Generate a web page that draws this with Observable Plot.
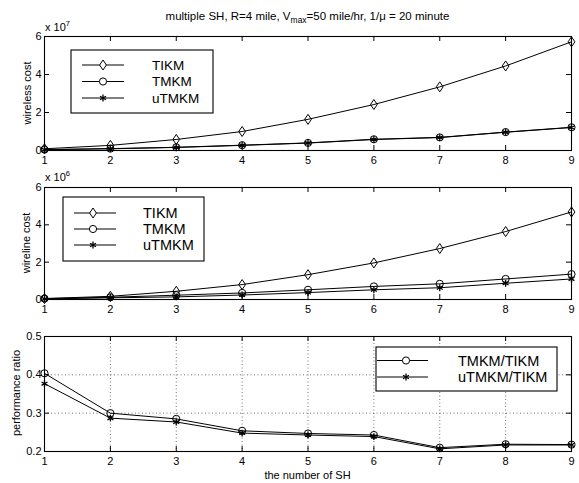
<!DOCTYPE html>
<html><head><meta charset="utf-8">
<script src="https://cdn.jsdelivr.net/npm/d3@7"></script>
<script src="https://cdn.jsdelivr.net/npm/@observablehq/plot@0.6"></script>
<style>
body{margin:0;background:#fff;font-family:"Liberation Sans",Arial,sans-serif;}
#chart{position:relative;width:579px;height:483px;overflow:hidden;background:#fff;}
#chart > svg, #chart > div{position:absolute;}
.title{left:44px;width:527px;top:10px;text-align:center;font-size:11.5px;line-height:13px;}
.title sub{font-size:8.5px;}
</style></head><body><div id="chart"></div>
<script>
// ---- data ----
const shCount = [1, 2, 3, 4, 5, 6, 7, 8, 9];
const wirelessTIKM  = [0.09, 0.27, 0.58, 1.00, 1.64, 2.42, 3.35, 4.45, 5.72];
const wirelessTMKM  = [0.05, 0.10, 0.17, 0.28, 0.40, 0.59, 0.69, 0.97, 1.22];
const wirelessUTMKM = [0.04, 0.09, 0.16, 0.27, 0.39, 0.58, 0.68, 0.96, 1.21];
const wirelineTIKM  = [0.05, 0.17, 0.44, 0.80, 1.33, 1.96, 2.73, 3.64, 4.69];
const wirelineTMKM  = [0.05, 0.12, 0.23, 0.35, 0.52, 0.70, 0.84, 1.10, 1.36];
const wirelineUTMKM = [0.03, 0.09, 0.14, 0.24, 0.37, 0.52, 0.63, 0.87, 1.10];
const ratioTMKM  = [0.404, 0.300, 0.285, 0.254, 0.247, 0.243, 0.210, 0.219, 0.218];
const ratioUTMKM = [0.377, 0.287, 0.277, 0.248, 0.243, 0.239, 0.207, 0.217, 0.217];
const xTicks = [1, 2, 3, 4, 5, 6, 7, 8, 9];
const costTicks = [0, 2, 4, 6];
const ratioTicks = [0.2, 0.3, 0.4, 0.5];
const wirelessLabels = ["TIKM", "TMKM", "uTMKM"];
const ratioLabels = ["TMKM/TIKM", "uTMKM/TIKM"];

// tall MATLAB-like diamond
const tallDiamond = {
  draw(ctx, size) {
    const r = Math.sqrt(size / Math.PI);
    ctx.moveTo(0, -r * 1.25); ctx.lineTo(r * 0.85, 0);
    ctx.lineTo(0, r * 1.25); ctx.lineTo(-r * 0.85, 0); ctx.closePath();
  }
};
const markers = {
  diamond: {symbol: tallDiamond, r: 4, sw: 1},
  circle: {symbol: "circle", r: 3.6, sw: 1},
  star: {symbol: "asterisk", r: 3.2, sw: 1.3}
};

const W = 579, ML = 44, MR = 8;
const chart = document.getElementById("chart");
const font = "'Liberation Sans', Arial, sans-serif";

function panel({top, height, mt, mb, ydomain, yticks, yfmt, series, grid}) {
  const innerH = height - mt - mb, innerW = W - ML - MR;
  const marks = [];
  if (grid) {
    marks.push(Plot.gridX(xTicks, {stroke: "#000", strokeOpacity: 0.55, strokeDasharray: "1,2.5"}));
    marks.push(Plot.gridY(yticks, {stroke: "#000", strokeOpacity: 0.55, strokeDasharray: "1,2.5"}));
  }
  for (const s of series) {
    const rows = shCount.map((x, i) => ({x, y: s.values[i]}));
    marks.push(Plot.line(rows, {x: "x", y: "y", stroke: "black", strokeWidth: 1}));
    marks.push(Plot.dot(rows, {x: "x", y: "y", symbol: s.marker.symbol, r: s.marker.r, stroke: "black", fill: "none", strokeWidth: s.marker.sw}));
  }
  marks.push(
    Plot.tickX(xTicks, {x: d => d, insetTop: innerH - 5, stroke: "black"}),
    Plot.tickX(xTicks, {x: d => d, insetBottom: innerH - 5, stroke: "black"}),
    Plot.tickY(yticks, {y: d => d, insetRight: innerW - 5, stroke: "black"}),
    Plot.tickY(yticks, {y: d => d, insetLeft: innerW - 5, stroke: "black"}),
    Plot.axisX(xTicks, {tickSize: 0, tickPadding: 6, label: null, fontSize: 11}),
    Plot.axisY(yticks, {tickSize: 0, tickPadding: 3, label: null, tickFormat: yfmt, fontSize: 11}),
    Plot.frame({stroke: "black", strokeWidth: 1.1})
  );
  const svg = Plot.plot({
    width: W, height, marginLeft: ML, marginRight: MR, marginTop: mt, marginBottom: mb,
    x: {domain: [1, 9]}, y: {domain: ydomain},
    style: {fontFamily: font, fontSize: "11px", background: "transparent", color: "black", overflow: "visible"},
    marks
  });
  svg.style.top = top + "px";
  svg.style.left = "0px";
  chart.appendChild(svg);
}

panel({top: 0, height: 172, mt: 36, mb: 22, ydomain: [0, 6], yticks: costTicks, yfmt: d3.format("d"),
  series: [
    {values: wirelessTIKM, marker: markers.diamond},
    {values: wirelessTMKM, marker: markers.circle},
    {values: wirelessUTMKM, marker: markers.star}
  ]});
panel({top: 172, height: 148, mt: 15, mb: 21, ydomain: [0, 6], yticks: costTicks, yfmt: d3.format("d"),
  series: [
    {values: wirelineTIKM, marker: markers.diamond},
    {values: wirelineTMKM, marker: markers.circle},
    {values: wirelineUTMKM, marker: markers.star}
  ]});
panel({top: 320, height: 163, mt: 16, mb: 32, ydomain: [0.2, 0.5], yticks: ratioTicks, yfmt: d3.format(".1f"), grid: true,
  series: [
    {values: ratioTMKM, marker: markers.circle},
    {values: ratioUTMKM, marker: markers.star}
  ]});

// title
const title = document.createElement("div");
title.className = "title";
title.innerHTML = "multiple SH, R=4 mile, V<sub>max</sub>=50 mile/hr, 1/\u03bc = 20 minute";
chart.appendChild(title);

// overlay annotations
const ov = d3.create("svg").attr("width", W).attr("height", 483)
  .style("top", "0px").style("left", "0px").style("font-family", font);
chart.appendChild(ov.node());

function mult(x, y, exp) {
  const t = ov.append("text").attr("x", x).attr("y", y).attr("font-size", 11);
  t.append("tspan").text("x 10");
  t.append("tspan").attr("dy", -5).attr("font-size", 7.5).text(exp);
}
mult(45, 31, "7");
mult(45, 181, "6");

function ylab(x, y, text) {
  ov.append("text").attr("transform", `translate(${x},${y}) rotate(-90)`)
    .attr("text-anchor", "middle").attr("dy", "0.35em").attr("font-size", 11).text(text);
}
ylab(27, 93, "wireless cost");
ylab(26, 243, "wireline cost");
ylab(16, 393, "performance ratio");
ov.append("text").attr("x", (ML + W - MR) / 2).attr("y", 479).attr("text-anchor", "middle")
  .attr("font-size", 11).text("the number of SH");

function legend({left, top, width, height, lineX, markX, textX, rows, fs, labels, marks}) {
  const g = ov.append("g").attr("transform", `translate(${left},${top})`);
  g.append("rect").attr("width", width).attr("height", height).attr("fill", "white").attr("stroke", "black").attr("stroke-width", 1.1);
  labels.forEach((lab, i) => {
    const y = rows[i];
    g.append("line").attr("x1", lineX[0]).attr("x2", lineX[1]).attr("y1", y).attr("y2", y).attr("stroke", "black");
    const m = marks[i];
    const type = typeof m.symbol === "string" ? (m.symbol === "circle" ? d3.symbolCircle : d3.symbolAsterisk) : m.symbol;
    g.append("path").attr("d", d3.symbol(type, Math.PI * m.r * m.r)())
      .attr("transform", `translate(${markX},${y})`).attr("fill", "white").attr("stroke", "black").attr("stroke-width", m.sw);
    g.append("text").attr("x", textX).attr("y", y + fs * 0.36).attr("font-size", fs).text(lab);
  });
}
const mk3 = [markers.diamond, markers.circle, markers.star];
legend({left: 71, top: 50, width: 142, height: 63, lineX: [11, 53], markX: 32, textX: 81, rows: [15, 31.5, 48], fs: 13.5, labels: wirelessLabels, marks: mk3});
legend({left: 63, top: 197, width: 141, height: 64, lineX: [11, 53], markX: 30, textX: 80, rows: [16, 32, 48], fs: 14.5, labels: wirelessLabels, marks: mk3});
legend({left: 376, top: 347, width: 181, height: 44, lineX: [1, 52], markX: 30, textX: 82, rows: [13.5, 30], fs: 14.5, labels: ratioLabels, marks: [markers.circle, markers.star]});
</script></body></html>
